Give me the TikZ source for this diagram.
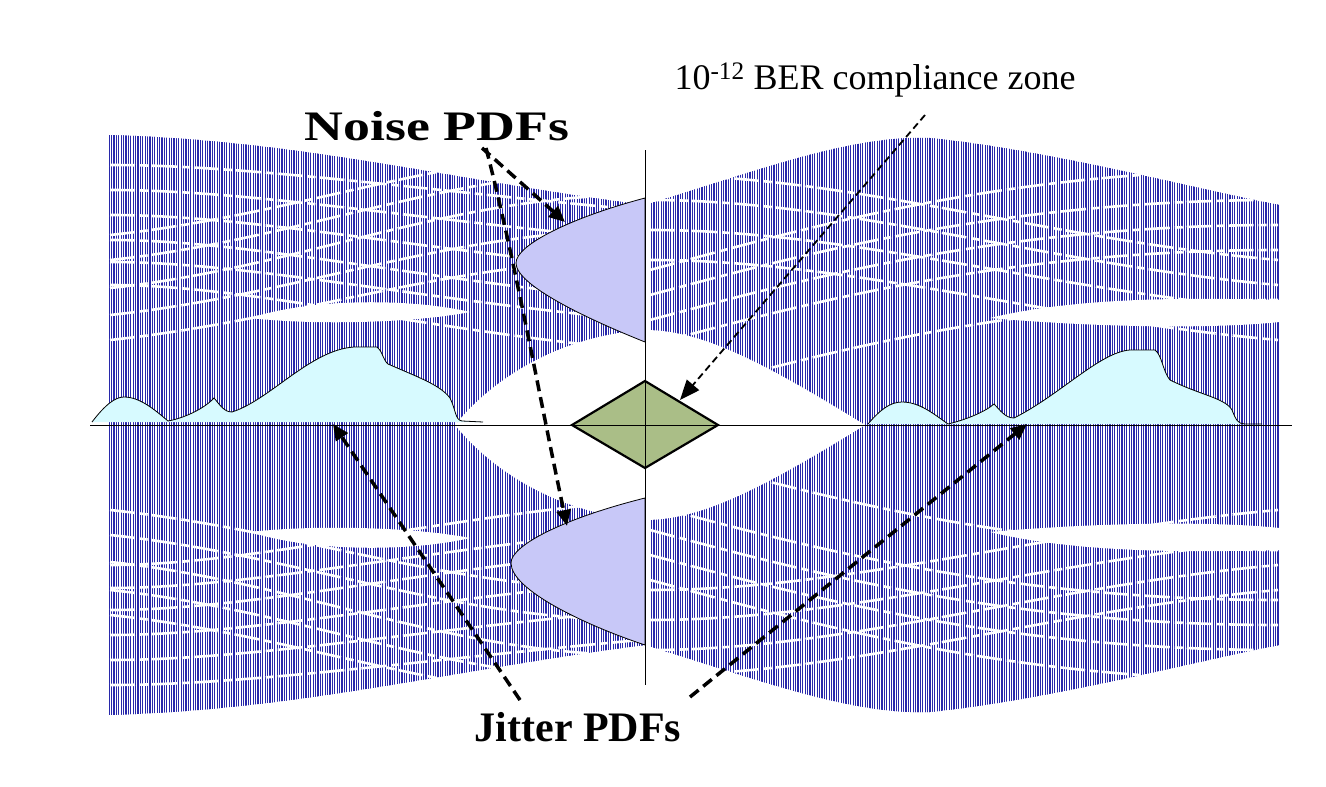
\documentclass[tikz,border=0pt]{standalone}
\usepackage{fontspec}
\setmainfont{Liberation Serif}
\usetikzlibrary{patterns,arrows.meta}
\pgfdeclarepatternformonly{vl}{\pgfqpoint{-1pt}{-1pt}}{\pgfqpoint{3pt}{4pt}}{\pgfqpoint{2.4pt}{3pt}}{\pgfsetlinewidth{1.3pt}\pgfpathmoveto{\pgfqpoint{1.2pt}{-1pt}}\pgfpathlineto{\pgfqpoint{1.2pt}{4pt}}\pgfusepath{stroke}}
\definecolor{eyeblue}{RGB}{40,40,170}
\definecolor{pdfnoise}{RGB}{200,200,248}
\definecolor{pdfjit}{RGB}{215,250,255}
\definecolor{zone}{RGB}{170,190,135}
\tikzset{
  dasharrow/.style={draw=black,line width=3.5pt,dash pattern=on 11pt off 6pt,-{Triangle[length=16pt,width=14pt]}},
  thinarrow/.style={draw=black,line width=1.8pt,dash pattern=on 7pt off 4pt,-{Triangle[length=20pt,width=16pt]}},
  streak/.style={draw=white,line width=2.6pt,dash pattern=on 25pt off 5pt on 8pt off 4pt},
  bigstreak/.style={fill=white},
  lab/.style={font=\bfseries\fontsize{42}{42}\selectfont,inner sep=0pt},
}
\newcommand{\eyestreaks}{%
  \foreach \a/\b in {165/190,190/220,215/250,240/280,262/300,285/330}{
    \draw[streak] (110,\a) .. controls (250,\a) and (420,\b) .. (640,\b+20);}
  \foreach \a/\b in {175/150,200/170,228/195,255/230,280/260}{
    \draw[streak] (110,\a+60) .. controls (300,\a+40) and (450,\b) .. (640,\b);}
  \foreach \a/\b in {230/170,255/200,280/225,305/250,360/300}{
    \draw[streak] (650,\a+40) .. controls (800,\a) and (1000,\b) .. (1278,\b);}
  \foreach \a/\b in {175/240,200/265,230/290,260/320}{
    \draw[streak] (650,\a) .. controls (850,\a) and (1050,\b) .. (1278,\b+20);}
  \fill[bigstreak] (250,318) .. controls (320,296) and (420,300) .. (470,312) .. controls (420,322) and (320,326) .. (250,318) -- cycle;
  \fill[bigstreak] (990,318) .. controls (1080,296) and (1200,298) .. (1280,300) -- (1280,322) .. controls (1200,330) and (1080,326) .. (990,318) -- cycle;
  \fill[white] (455,425) .. controls (500,370) and (570,335) .. (645,330) .. controls (700,330) and (760,360) .. (865,425) -- cycle;
}
\begin{document}
\begin{tikzpicture}[x=1pt,y=-1pt]
\useasboundingbox (0,0) rectangle (1326,787);
% eye envelope
\path[pattern=vl,pattern color=eyeblue]
  (108,135) .. controls (300,140) and (450,180) .. (645,205)
  .. controls (760,170) and (850,135) .. (930,138)
  .. controls (1050,150) and (1200,190) .. (1280,205)
  -- (1280,645)
  .. controls (1200,660) and (1050,700) .. (930,712)
  .. controls (850,715) and (760,680) .. (645,645)
  .. controls (450,670) and (300,710) .. (108,715) -- cycle;
\eyestreaks
\begin{scope}[shift={(0,850)},yscale=-1]
\eyestreaks
\end{scope}
\fill[white] (643,150) rectangle (650,690);
% axes
\draw[line width=0.8pt] (90,425) -- (1292,425);
% noise PDFs
\draw[line width=0.8pt,fill=pdfnoise] (645,198) .. controls (570,218) and (516,245) .. (516,263)
  .. controls (516,285) and (585,318) .. (645,342) -- cycle;
\draw[line width=0.8pt,fill=pdfnoise] (645,498) .. controls (565,518) and (511,545) .. (511,563)
  .. controls (511,590) and (585,625) .. (645,645) -- cycle;
\draw[line width=0.8pt] (645,150) -- (645,685);
% jitter PDFs
\draw[line width=0.8pt,fill=pdfjit] (92,422) .. controls (105,405) and (115,397) .. (124,397)
  .. controls (140,397) and (155,410) .. (168,421) .. controls (185,418) and (205,408) .. (214,398)
  .. controls (220,405) and (224,412) .. (232,412) .. controls (270,400) and (310,350) .. (354,347)
  -- (377,347) .. controls (382,350) and (383,360) .. (388,364) .. controls (420,378) and (440,385) .. (450,398)
  .. controls (456,410) and (455,420) .. (462,421) -- (483,422);
\draw[line width=0.8pt,fill=pdfjit] (868,424) .. controls (880,410) and (890,402) .. (902,402)
  .. controls (920,402) and (935,415) .. (948,424) .. controls (965,420) and (985,412) .. (994,404)
  .. controls (1000,410) and (1005,418) .. (1014,418) .. controls (1060,395) and (1100,352) .. (1130,350)
  -- (1155,350) .. controls (1162,355) and (1163,372) .. (1170,380) .. controls (1200,395) and (1225,398) .. (1232,410)
  .. controls (1236,420) and (1238,424) .. (1245,424) -- (1262,424);
% compliance zone
\draw[line width=2.2pt,fill=zone] (572,425) -- (645,381) -- (718,425) -- (645,468) -- cycle;
\draw[line width=0.8pt] (572,425) -- (718,425) (645,381) -- (645,468);
% labels
\node[lab,xscale=1.28] (noise) at (437,126) {Noise PDFs};
\node[lab] (jitter) at (578,727) {Jitter PDFs};
\node[inner sep=0pt,font=\fontsize{36}{36}\selectfont] (ber) at (875,80) {10\textsuperscript{-12} BER compliance zone};
\coordinate (n1) at (482,148);
\coordinate (n2) at (486,148);
\coordinate (t1) at (565,222);
\coordinate (t2) at (567,526);
\coordinate (j1) at (520,700);
\coordinate (j2) at (690,697);
\coordinate (s1) at (333,424);
\coordinate (s2) at (1027,424);
\coordinate (b1) at (925,115);
\coordinate (b2) at (680,400);
\draw[dasharrow] (n1) -- (t1);
\draw[dasharrow] (n2) .. controls (515,260) and (540,400) .. (t2);
\draw[dasharrow] (j1) -- (s1);
\draw[dasharrow] (j2) -- (s2);
\draw[thinarrow] (b1) -- (b2);
\end{tikzpicture}
\end{document}
